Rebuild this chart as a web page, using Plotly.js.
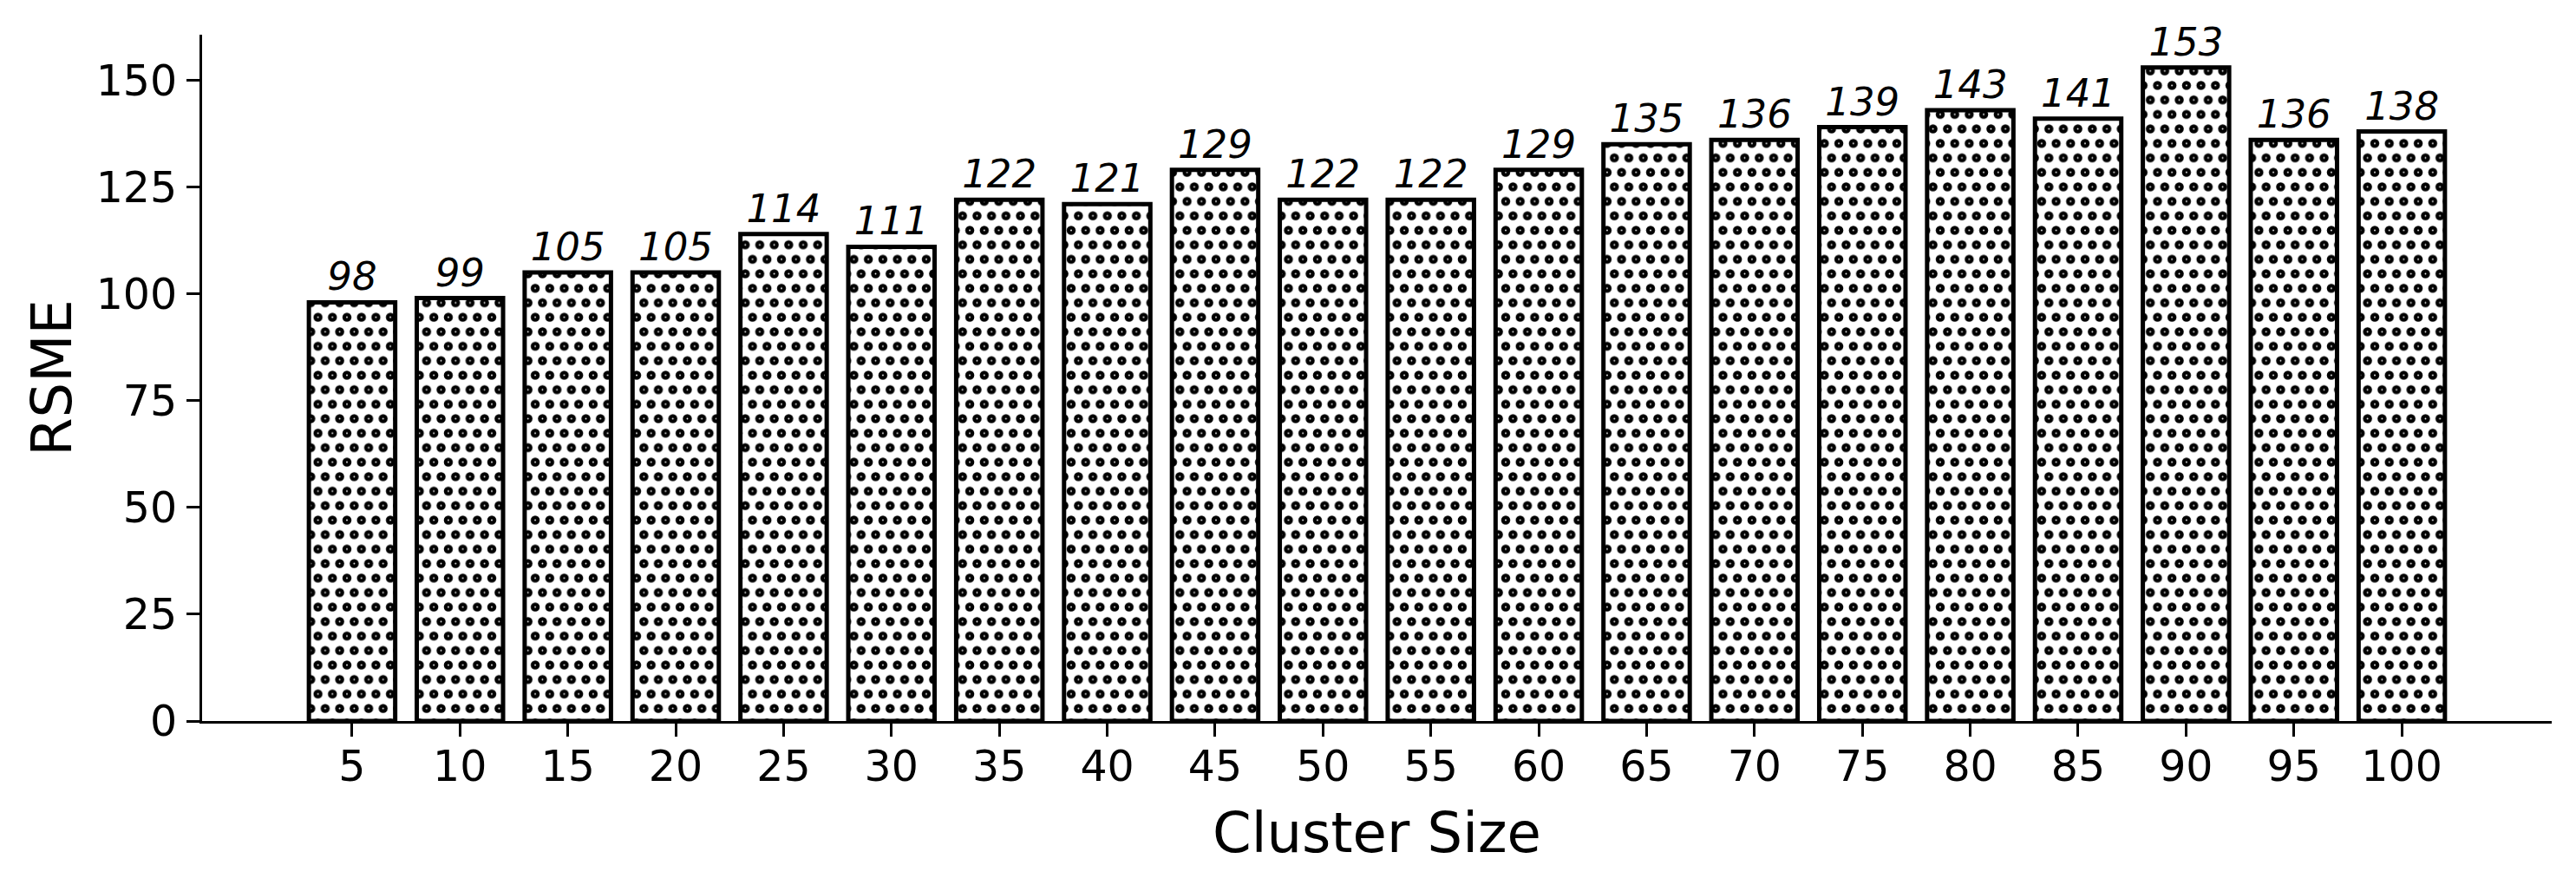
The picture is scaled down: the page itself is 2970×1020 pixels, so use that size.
<!DOCTYPE html>
<html>
<head>
<meta charset="utf-8">
<script src="https://cdn.plot.ly/plotly-3.0.1.min.js"></script>
<style>html,body{margin:0;padding:0;background:#fff;}#chart{width:2970px;height:1020px;}</style>
</head>
<body>
<div id="chart"></div>
<script>
const clusterSizes = ["5","10","15","20","25","30","35","40","45","50","55","60","65","70","75","80","85","90","95","100"];
const rsmeValues = [98, 99, 105, 105, 114, 111, 122, 121, 129, 122, 122, 129, 135, 136, 139, 143, 141, 153, 136, 138];
const yTickValues = [0, 25, 50, 75, 100, 125, 150];

const FONT = "DejaVu Sans";
const DOT_SPACING = 16.7;
const DOT_RADIUS = 5.2;

const trace = {
  type: "bar",
  x: clusterSizes,
  y: rsmeValues,
  text: rsmeValues.map(String),
  textposition: "outside",
  texttemplate: "%{text}",
  constraintext: "none",
  cliponaxis: false,
  textfont: {family: FONT, size: 45, color: "#000", style: "italic"},
  marker: {
    color: "#ffffff",
    line: {color: "#000000", width: 5},
    pattern: {shape: ".", fgcolor: "#000000", bgcolor: "#ffffff", size: DOT_SPACING, solidity: 0.3, fillmode: "replace"}
  },
  hoverinfo: "skip"
};

const layout = {
  width: 2970,
  height: 1020,
  paper_bgcolor: "#ffffff",
  plot_bgcolor: "#ffffff",
  margin: {l: 233, r: 28, t: 40, b: 189},
  bargap: 0.2,
  showlegend: false,
  font: {family: FONT, color: "#000"},
  xaxis: {
    type: "category",
    range: [-1.39, 20.39],
    showline: true, linecolor: "#000", linewidth: 3,
    ticks: "outside", ticklen: 15, tickwidth: 3, tickcolor: "#000",
    showgrid: false, zeroline: false,
    tickfont: {family: FONT, size: 49, color: "#000"},
    ticklabelstandoff: -8,
    title: {text: "Cluster Size", font: {family: FONT, size: 64, color: "#000"}, standoff: 27}
  },
  yaxis: {
    range: [0, 160.65],
    tickvals: yTickValues,
    showline: true, linecolor: "#000", linewidth: 3,
    ticks: "outside", ticklen: 15, tickwidth: 3, tickcolor: "#000",
    showgrid: false, zeroline: false,
    tickfont: {family: FONT, size: 49, color: "#000"},
    ticklabelstandoff: 1,
    title: {text: "RSME", font: {family: FONT, size: 64, color: "#000"}, standoff: 8}
  }
};

// Turn Plotly's square dot tile into a staggered (hex-like) dot tile, like a matplotlib 'o' hatch.
function staggerPatterns(gd) {
  try {
    const NS = "http://www.w3.org/2000/svg";
    const a = DOT_SPACING, b = 2 * DOT_SPACING;
    gd.querySelectorAll("defs pattern").forEach(function (p) {
      p.setAttribute("width", a + "px");
      p.setAttribute("height", b + "px");
      p.querySelectorAll("rect").forEach(function (r) {
        r.setAttribute("width", a + "px");
        r.setAttribute("height", b + "px");
      });
      p.querySelectorAll("circle").forEach(function (c) { c.remove(); });
      const centers = [[a / 2, b / 4], [0, 3 * b / 4], [a, 3 * b / 4]];
      centers.forEach(function (ctr) {
        const c = document.createElementNS(NS, "circle");
        c.setAttribute("cx", ctr[0]); c.setAttribute("cy", ctr[1]);
        c.setAttribute("r", DOT_RADIUS); c.setAttribute("fill", "#000000");
        p.appendChild(c);
        const h = document.createElementNS(NS, "circle");
        h.setAttribute("cx", ctr[0]); h.setAttribute("cy", ctr[1]);
        h.setAttribute("r", 0.9); h.setAttribute("fill", "#ffffff");
        p.appendChild(h);
      });
    });
  } catch (e) { /* keep Plotly's own pattern */ }
}

Plotly.newPlot("chart", [trace], layout, {staticPlot: true, displayModeBar: false})
  .then(function (gd) { staggerPatterns(gd); });
</script>
</body>
</html>
